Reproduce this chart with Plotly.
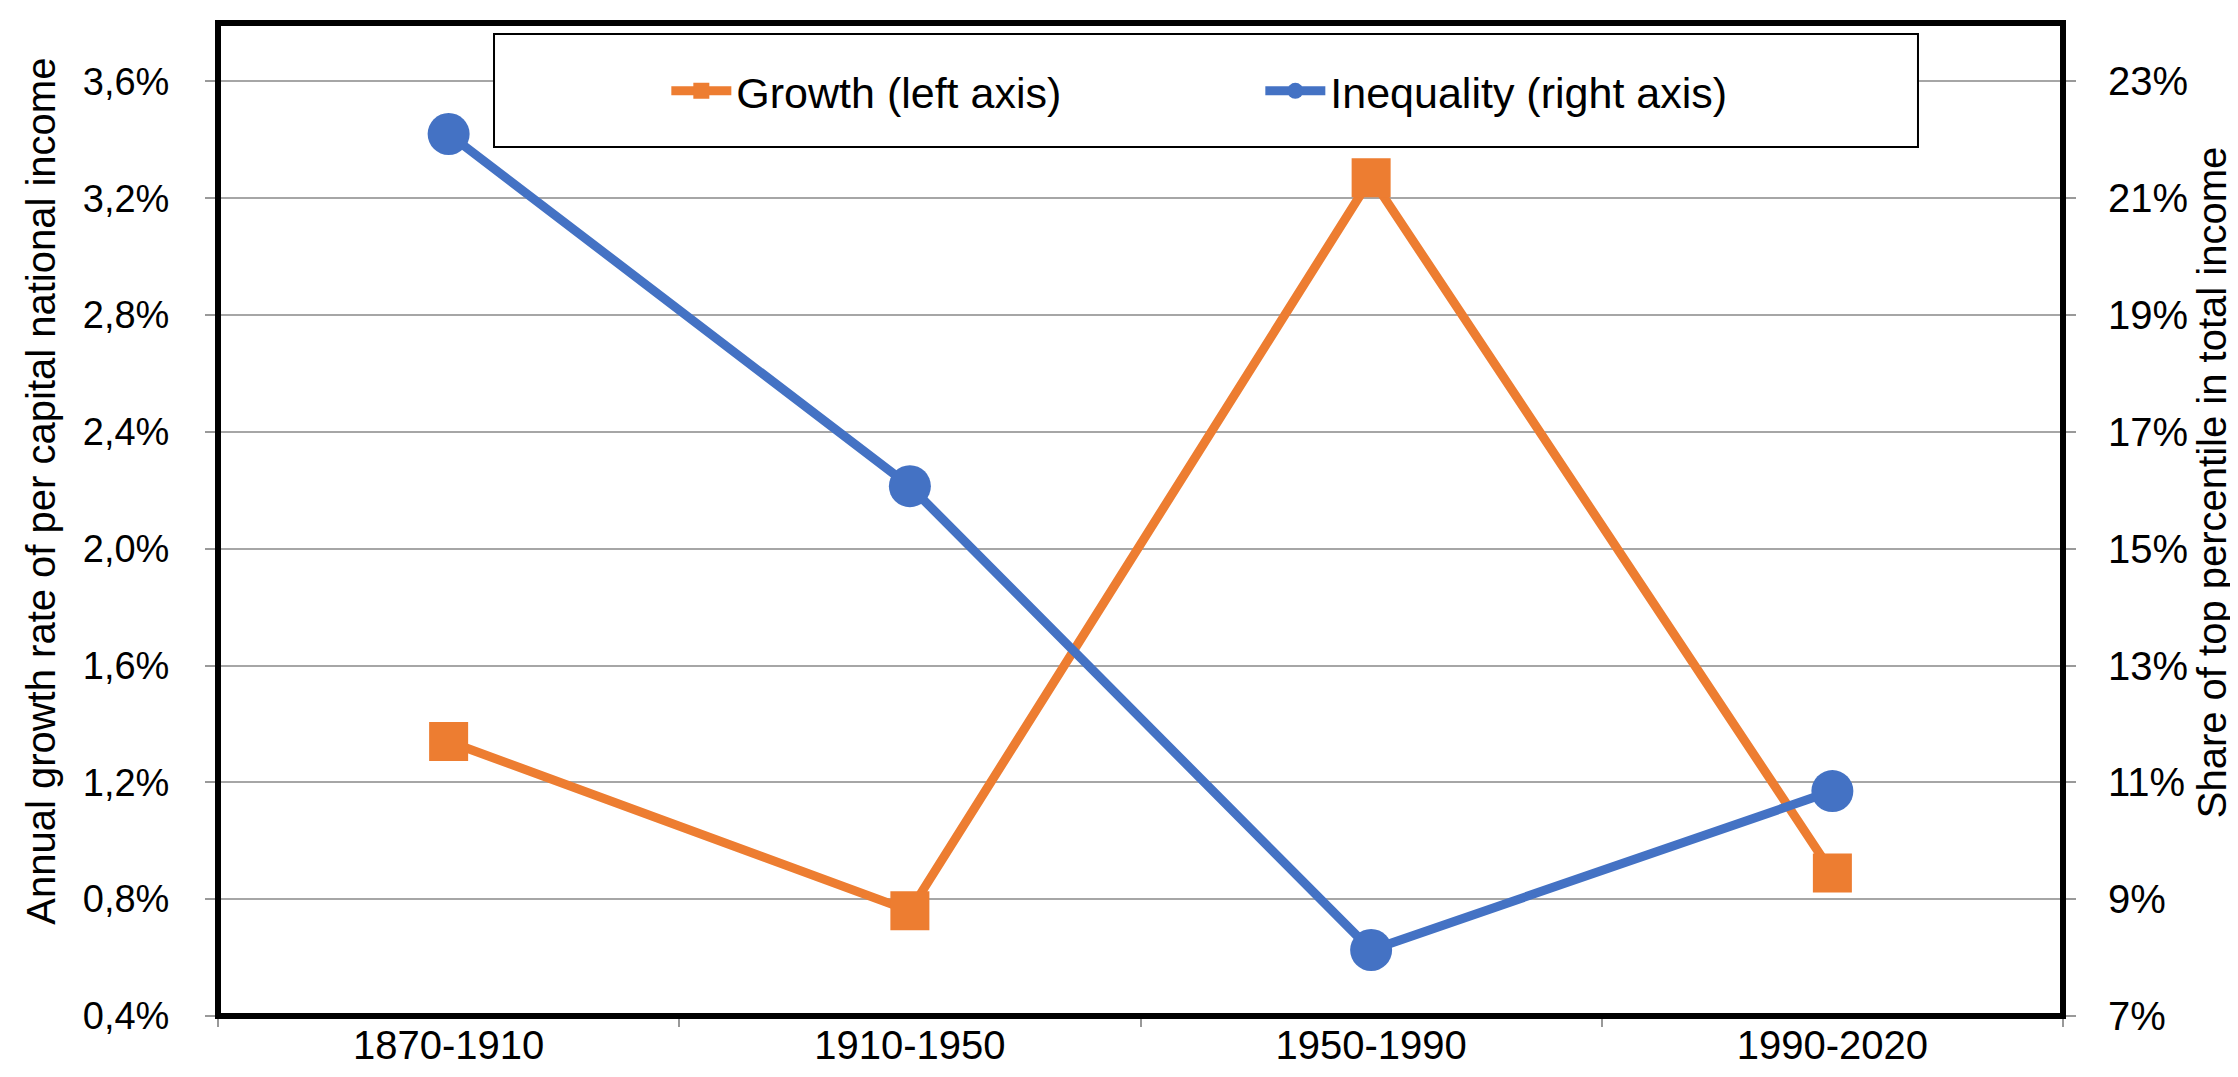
import plotly.graph_objects as go

# ---- data ----
periods = ["1870-1910", "1910-1950", "1950-1990", "1990-2020"]
growth_pct = [1.34, 0.76, 3.27, 0.89]          # left axis, % per year
top1_share_pct = [22.1, 16.07, 8.13, 10.85]    # right axis, %

left_tickvals = [0.4, 0.8, 1.2, 1.6, 2.0, 2.4, 2.8, 3.2, 3.6]
left_ticktext = ["0,4%", "0,8%", "1,2%", "1,6%", "2,0%", "2,4%", "2,8%", "3,2%", "3,6%"]
right_tickvals = [7, 9, 11, 13, 15, 17, 19, 21, 23]
right_ticktext = ["7%", "9%", "11%", "13%", "15%", "17%", "19%", "21%", "23%"]

series_names = ["Growth (left axis)", "Inequality (right axis)"]
left_title = "Annual growth rate of per capital national income"
right_title = "Share of top percentile in total income"

ORANGE = "#ED7D31"
BLUE = "#4472C4"
FONT = "Liberation Sans, Arial, sans-serif"
FS = 40

fig = go.Figure()
fig.add_trace(go.Scatter(
    x=periods, y=growth_pct, name=series_names[0], mode="lines+markers",
    line=dict(color=ORANGE, width=9),
    marker=dict(symbol="square", size=39, color=ORANGE),
    yaxis="y", cliponaxis=False,
))
fig.add_trace(go.Scatter(
    x=periods, y=top1_share_pct, name=series_names[1], mode="lines+markers",
    line=dict(color=BLUE, width=9),
    marker=dict(symbol="circle", size=42, color=BLUE),
    yaxis="y2", cliponaxis=False,
))

W, H = 2238, 1077
L, R, T, B = 210, 183, 15, 69

fig.update_layout(
    width=W, height=H,
    margin=dict(l=L, r=R, t=T, b=B, autoexpand=False),
    paper_bgcolor="white", plot_bgcolor="white",
    font=dict(family=FONT, size=FS, color="black"),
    showlegend=True,
    legend=dict(
        orientation="h", x=0.243, y=0.9316, xanchor="left", yanchor="middle",
        bgcolor="rgba(0,0,0,0)", borderwidth=0,
        font=dict(family=FONT, size=43, color="black"),
        entrywidth=519, entrywidthmode="pixels", itemwidth=60,
    ),
    xaxis=dict(
        type="category", range=[-0.5, 3.5],
        showgrid=False, showline=False, zeroline=False,
        ticks="outside", tickson="boundaries", ticklen=10, tickwidth=2, tickcolor="#999999",
        tickfont=dict(family=FONT, size=FS, color="black"),
        ticklabelstandoff=2,
    ),
    yaxis=dict(
        range=[0.4, 3.8], tickvals=left_tickvals, ticktext=left_ticktext,
        showgrid=True, gridcolor="#a6a6a6", gridwidth=2,
        showline=False, zeroline=False,
        ticks="outside", ticklen=12, tickwidth=2, tickcolor="#999999",
        tickfont=dict(family=FONT, size=38, color="black"),
        ticklabelstandoff=28,
    ),
    yaxis2=dict(
        range=[7, 24], tickvals=right_tickvals, ticktext=right_ticktext,
        overlaying="y", side="right",
        showgrid=False, showline=False, zeroline=False,
        ticks="outside", ticklen=12, tickwidth=2, tickcolor="#999999",
        tickfont=dict(family=FONT, size=FS, color="black"),
        ticklabelstandoff=24,
    ),
    shapes=[
        # legend box
        dict(type="rect", xref="paper", yref="paper",
             x0=0.1496, x1=0.9214, y0=0.8751, y1=0.9889,
             line=dict(color="black", width=2), fillcolor="white", layer="above"),
        # plot frame
        dict(type="rect", xref="paper", yref="paper",
             x0=0, x1=1, y0=0, y1=1,
             line=dict(color="black", width=6), fillcolor="rgba(0,0,0,0)", layer="above"),
    ],
    annotations=[
        dict(text=left_title, xref="paper", yref="paper", x=-0.0959, y=0.528,
             xanchor="center", yanchor="middle", textangle=-90, showarrow=False,
             font=dict(family=FONT, size=FS, color="black")),
        dict(text=right_title, xref="paper", yref="paper", x=1.0805, y=0.537,
             xanchor="center", yanchor="middle", textangle=-90, showarrow=False,
             font=dict(family=FONT, size=FS, color="black")),
    ],
)

fig.write_html("out.html")
